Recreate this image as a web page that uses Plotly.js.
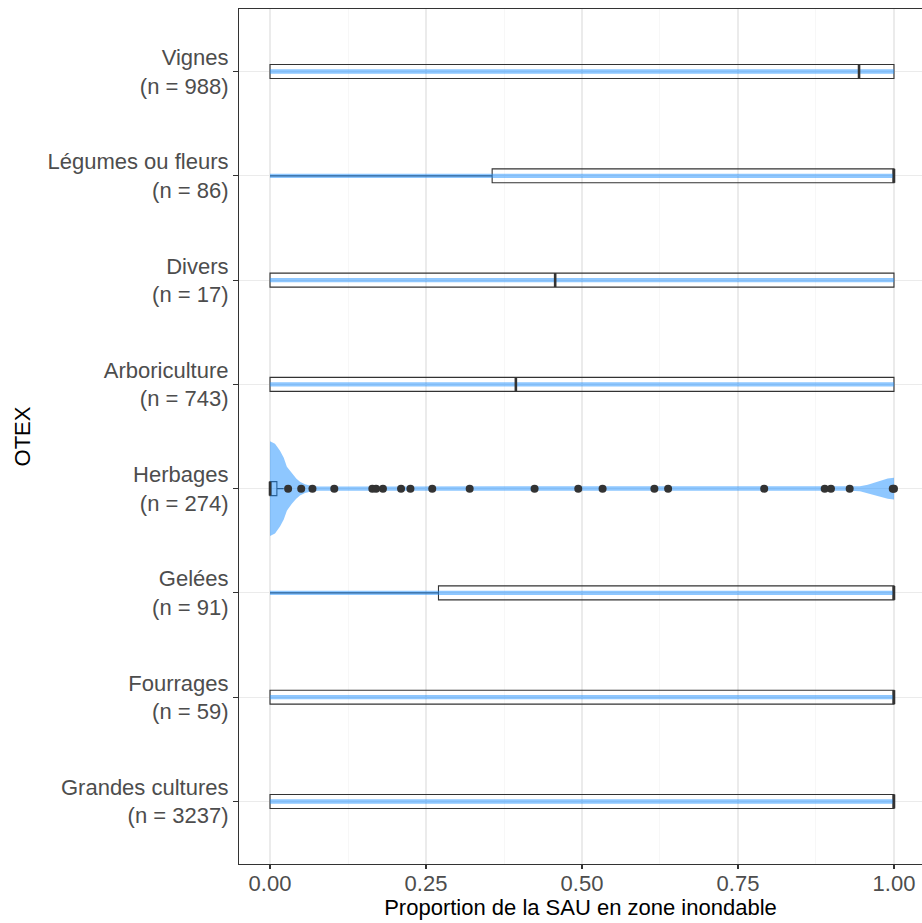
<!DOCTYPE html>
<html>
<head>
<meta charset="utf-8">
<script src="https://cdn.plot.ly/plotly-3.0.1.min.js"></script>
<style>html,body{margin:0;padding:0;background:#fff;}</style>
</head>
<body>
<div id="chart" style="width:922px;height:923px;"></div>
<script>
// ---- Data ----
const categories = ["Grandes cultures", "Fourrages", "Gelées", "Herbages", "Arboriculture", "Divers", "Légumes ou fleurs", "Vignes"];
const counts = [3237, 59, 91, 274, 743, 17, 86, 988];
const lowerFence = [0, 0, 0, 0, 0, 0, 0, 0];
const q1 = [0, 0, 0.27, 0, 0, 0, 0.356, 0];
const median = [1, 1, 1, 0, 0.394, 0.457, 1, 0.944];
const q3 = [1, 1, 1, 0.011, 1, 1, 1, 1];
const upperFence = [1, 1, 1, 0.022, 1, 1, 1, 1];

const herbagesOutliers = [0.029, 0.050, 0.068, 0.103, 0.164, 0.170, 0.181, 0.210, 0.225, 0.260, 0.320,
  0.424, 0.494, 0.533, 0.616, 0.638, 0.792, 0.889, 0.899, 0.929, 0.998, 1.0];

// violin density profiles (x value, half width in category units)
const thinViolinX = [0, 1];
const thinViolinHalfWidth = [0.021, 0.021];
const herbagesViolinX = [0, 0.008, 0.016, 0.022, 0.027, 0.035, 0.042, 0.048, 0.056, 0.064, 0.077,
  0.2, 0.4, 0.6, 0.8, 0.93, 0.9455, 0.958, 0.970, 0.981, 0.990, 1.0];
const herbagesViolinHalfWidth = [0.455, 0.431, 0.364, 0.297, 0.211, 0.144, 0.096, 0.067, 0.043, 0.029, 0.021,
  0.021, 0.021, 0.021, 0.021, 0.021, 0.024, 0.038, 0.058, 0.081, 0.096, 0.105];

const xTickVals = [0, 0.25, 0.5, 0.75, 1];
const xTickText = ["0.00", "0.25", "0.50", "0.75", "1.00"];
const xMinorVals = [0.125, 0.375, 0.625, 0.875];

// ---- Build traces ----
const BOX_W = 0.134;
const FONT = "Liberation Sans, Arial, Helvetica, sans-serif";
const traces = [];

categories.forEach((c, i) => {
  const vx = c === "Herbages" ? herbagesViolinX : thinViolinX;
  const vh = c === "Herbages" ? herbagesViolinHalfWidth : thinViolinHalfWidth;
  const xs = vx.concat(vx.slice().reverse());
  const ys = vh.map(h => i + h).concat(vh.slice().reverse().map(h => i - h));
  traces.push({
    type: "scatter", mode: "lines", x: xs, y: ys, fill: "toself",
    fillcolor: "rgba(30,144,255,0.5)", line: {width: 0, color: "rgba(30,144,255,0.5)"},
    hoverinfo: "skip", showlegend: false
  });
});

traces.push({
  type: "box", orientation: "h",
  y: categories.map((c, i) => i),
  q1: q1, median: median, q3: q3, lowerfence: lowerFence, upperfence: upperFence,
  width: BOX_W, whiskerwidth: 0, boxpoints: false,
  fillcolor: "rgba(0,0,0,0)", line: {color: "#333333", width: 1.1},
  showlegend: false, hoverinfo: "skip"
});

// thicker median lines
const mx = [], my = [];
median.forEach((m, i) => { mx.push(m, m, null); my.push(i - BOX_W / 2, i + BOX_W / 2, null); });
traces.push({
  type: "scatter", mode: "lines", x: mx, y: my,
  line: {color: "#333333", width: 2.6}, hoverinfo: "skip", showlegend: false
});

const herbIdx = categories.indexOf("Herbages");
traces.push({
  type: "scatter", mode: "markers", x: herbagesOutliers, y: herbagesOutliers.map(() => herbIdx),
  marker: {color: "#333333", size: 8}, hoverinfo: "skip", showlegend: false
});

const layout = {
  width: 922, height: 923,
  margin: {l: 239, r: 0, t: 9, b: 59, pad: 0},
  paper_bgcolor: "#ffffff", plot_bgcolor: "#ffffff",
  font: {family: FONT, size: 22, color: "#4D4D4D"},
  showlegend: false,
  xaxis: {
    range: [-0.0497, 1.0449], tickmode: "array", tickvals: xTickVals, ticktext: xTickText,
    showline: true, mirror: true, linecolor: "#333333", linewidth: 1.1,
    ticks: "outside", ticklen: 4, tickwidth: 1.1, tickcolor: "#333333",
    ticklabelstandoff: -5,
    showgrid: true, gridcolor: "#EBEBEB", gridwidth: 1.1, zeroline: false,
    minor: {tickmode: "array", tickvals: xMinorVals, showgrid: true, gridcolor: "#F2F2F2", gridwidth: 0.6, ticks: ""},
    tickfont: {family: FONT, size: 22, color: "#4D4D4D"},
    title: {text: "Proportion de la SAU en zone inondable", font: {family: FONT, size: 22, color: "#000000"}, standoff: 0},
    automargin: false
  },
  yaxis: {
    range: [-0.6, 7.6], tickmode: "array", tickvals: categories.map((c, i) => i),
    ticktext: categories.map((c, i) => c + "<br>(n = " + counts[i] + ")"),
    showline: true, mirror: false, linecolor: "#333333", linewidth: 1.1,
    ticks: "outside", ticklen: 5, tickwidth: 1.1, tickcolor: "#333333",
    showgrid: true, gridcolor: "#EBEBEB", gridwidth: 1.1, zeroline: false,
    tickfont: {family: FONT, size: 22, color: "#4D4D4D"},
    title: {text: "OTEX", font: {family: FONT, size: 22, color: "#000000"}, standoff: 10},
    automargin: false
  }
};

Plotly.newPlot("chart", traces, layout, {staticPlot: true, displayModeBar: false});
</script>
</body>
</html>
